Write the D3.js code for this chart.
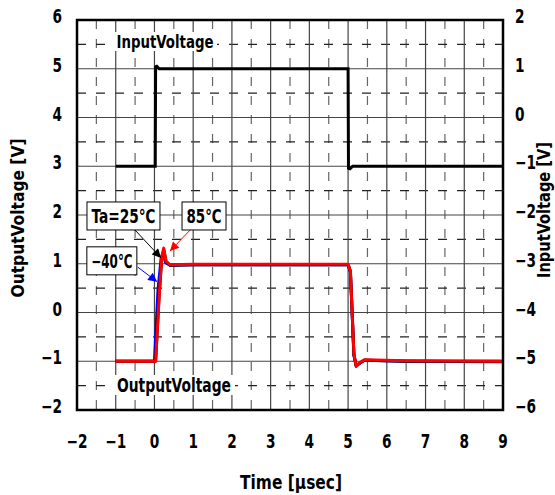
<!DOCTYPE html>
<html><head><meta charset="utf-8">
<script src="https://cdn.jsdelivr.net/npm/d3@7"></script>
<style>
body{margin:0;background:#fff;}
text{font-family:"Liberation Sans Narrow","DejaVu Sans Condensed","Noto Sans CJK JP",sans-serif;font-weight:bold;fill:#000;}
</style></head>
<body><svg id="c" width="555" height="495"></svg>
<script>
// ---- data ----
const xTicks = [-2,-1,0,1,2,3,4,5,6,7,8,9];
const yLeftTicks = [-2,-1,0,1,2,3,4,5,6];
const yRightTicks = [-6,-5,-4,-3,-2,-1,0,1,2];
// Input voltage (right axis, V)
const inputT = [-1, 0.02, 0.03, 0.06, 0.12, 5.0, 5.01, 5.05, 5.12, 9];
const inputV = [-1, -1, 1.04, 1.05, 1.0, 1.0, -1.04, -1.05, -1.0, -1.0];
// Output voltage (left axis, V)
const outT = [-1, 0.03, 0.12, 0.19, 0.24, 0.3, 0.4, 1.0, 5.0, 5.06, 5.15, 5.21, 5.3, 5.42, 6.5, 9];
const outV85 = [-1, -1, 0.3, 1.15, 1.32, 1.05, 0.98, 0.99, 0.99, 0.85, -0.85, -1.1, -1.03, -0.97, -0.99, -1.0];
const outV25 = [-1, -1, 0.35, 1.12, 1.28, 1.04, 0.97, 0.98, 0.98, 0.84, -0.86, -1.1, -1.04, -0.98, -1.0, -1.0];
const outVm40 = [-1, -1, 0.45, 1.1, 1.22, 1.02, 0.97, 0.98, 0.98, 0.83, -0.88, -1.09, -1.04, -0.98, -1.0, -1.01];
const outTm40 = [-1, 0.0, 0.09, 0.17, 0.22, 0.29, 0.4, 1.0, 5.0, 5.06, 5.15, 5.21, 5.3, 5.42, 6.5, 9];
// annotations (data coords on left axis)
const boxLabels = ["Ta=25℃", "85℃", "−40℃"];
const boxT = [-0.8, 1.28, -1.1];
const boxV = [1.98, 1.98, 1.06];
const boxW = [73, 44, 50];
const arrowColors = ["#000", "#f00", "#00f"];
const arrowFromT = [-0.5, 0.92, -0.43];
const arrowFromV = [1.69, 1.69, 0.93];
const arrowToT = [0.17, 0.4, 0.07];
const arrowToV = [1.12, 1.26, 0.63];

// ---- layout ----
const svg = d3.select("#c");
const L = 77, R = 503, T = 20, B = 410;
const x = d3.scaleLinear().domain([-2, 9]).range([L, R]);
const y = d3.scaleLinear().domain([-2, 6]).range([B, T]);
const yR = d3.scaleLinear().domain([-6, 2]).range([B, T]);

const g = svg.append("g");
// grid
const halfX = d3.range(-1.5, 9, 1);
const halfY = d3.range(-1.5, 6, 1);
g.selectAll(".vd").data(halfX).join("line")
  .attr("x1", d => x(d)).attr("x2", d => x(d)).attr("y1", T).attr("y2", B)
  .attr("stroke", "#666").attr("stroke-width", 1.2).attr("stroke-dasharray", "9,10");
g.selectAll(".hd").data(halfY).join("line")
  .attr("y1", d => y(d)).attr("y2", d => y(d)).attr("x1", L).attr("x2", R)
  .attr("stroke", "#222").attr("stroke-width", 1.2).attr("stroke-dasharray", "9,10");
g.selectAll(".vs").data(xTicks.slice(1, -1)).join("line")
  .attr("x1", d => x(d)).attr("x2", d => x(d)).attr("y1", T).attr("y2", B)
  .attr("stroke", "#444").attr("stroke-width", 1.2);
g.selectAll(".hs").data(yLeftTicks.slice(1, -1)).join("line")
  .attr("y1", d => y(d)).attr("y2", d => y(d)).attr("x1", L).attr("x2", R)
  .attr("stroke", "#444").attr("stroke-width", 1.2);

// labels with white backgrounds inside plot
function bgText(txt, cx, base, len, size) {
  return svg.append("text").attr("x", cx).attr("y", base).attr("text-anchor", "middle")
    .attr("font-size", size).attr("textLength", len).attr("lengthAdjust", "spacingAndGlyphs").text(txt);
}
svg.append("rect").attr("x", 113).attr("y", 32).attr("width", 104).attr("height", 19).attr("fill", "#fff");
bgText("InputVoltage", 165, 48, 97, 17);
svg.append("rect").attr("x", 113).attr("y", 375).attr("width", 122).attr("height", 20).attr("fill", "#fff");
bgText("OutputVoltage", 174, 392, 114, 19);

// traces
const line = d3.line().x(d => x(d[0])).y(d => d[1]);
const inPts = inputT.map((t, i) => [t, yR(inputV[i])]);
svg.append("path").attr("d", line(inPts)).attr("fill", "none").attr("stroke", "#000").attr("stroke-width", 3);
const series = [
  {t: outTm40, v: outVm40, c: "#00f"},
  {t: outT, v: outV25, c: "#000"},
  {t: outT, v: outV85, c: "#f00"}
];
series.forEach(s => {
  const pts = s.t.map((t, i) => [t, y(s.v[i])]);
  svg.append("path").attr("d", line(pts)).attr("fill", "none").attr("stroke", s.c)
    .attr("stroke-width", 3).attr("stroke-linejoin", "round");
});

// border
svg.append("rect").attr("x", L).attr("y", T).attr("width", R - L).attr("height", B - T)
  .attr("fill", "none").attr("stroke", "#000").attr("stroke-width", 2.5);

// arrows
const defs = svg.append("defs");
arrowColors.forEach((c, i) => {
  defs.append("marker").attr("id", "ah" + i).attr("viewBox", "0 0 10 10").attr("refX", 10).attr("refY", 5)
    .attr("markerWidth", 11).attr("markerHeight", 9).attr("markerUnits", "userSpaceOnUse").attr("orient", "auto")
    .append("path").attr("d", "M0,0L10,5L0,10Z").attr("fill", c);
  svg.append("line").attr("x1", x(arrowFromT[i])).attr("y1", y(arrowFromV[i]))
    .attr("x2", x(arrowToT[i])).attr("y2", y(arrowToV[i]))
    .attr("stroke", c).attr("stroke-width", 1).attr("marker-end", "url(#ah" + i + ")");
});
// boxes
boxLabels.forEach((lab, i) => {
  const cx = x(boxT[i]), cy = y(boxV[i]);
  svg.append("rect").attr("x", cx - boxW[i] / 2).attr("y", cy - 14).attr("width", boxW[i]).attr("height", 28)
    .attr("fill", "#fff").attr("stroke", "#000").attr("stroke-width", 1);
  svg.append("text").attr("x", cx).attr("y", cy + 7).attr("text-anchor", "middle").attr("font-size", 19)
    .attr("textLength", boxW[i] - 9).attr("lengthAdjust", "spacingAndGlyphs").text(lab);
});

// tick labels (narrow, tall glyphs)
const fmt = d => d < 0 ? "−" + Math.abs(d) : String(d);
svg.selectAll(".xl").data(xTicks).join("text")
  .attr("transform", d => `translate(${x(d)},448) scale(0.8,1)`)
  .attr("text-anchor", "middle").attr("font-size", 19).text(fmt);
svg.selectAll(".yl").data(yLeftTicks).join("text")
  .attr("transform", d => `translate(62,${y(d) + 3}) scale(0.8,1)`)
  .attr("text-anchor", "end").attr("font-size", 19).text(fmt);
svg.selectAll(".yr").data(yRightTicks).join("text")
  .attr("transform", d => `translate(515,${yR(d) + 3}) scale(0.8,1)`)
  .attr("text-anchor", "start").attr("font-size", 19).text(fmt);

// axis titles
svg.append("text").attr("transform", "translate(24,218) rotate(-90)").attr("text-anchor", "middle")
  .attr("font-size", 18).attr("textLength", 159).attr("lengthAdjust", "spacingAndGlyphs").text("OutputVoltage [V]");
svg.append("text").attr("transform", "translate(550,210) rotate(-90)").attr("text-anchor", "middle")
  .attr("font-size", 18).attr("textLength", 136).attr("lengthAdjust", "spacingAndGlyphs").text("InputVoltage [V]");
svg.append("text").attr("x", 291).attr("y", 489).attr("text-anchor", "middle")
  .attr("font-size", 19).attr("textLength", 102).attr("lengthAdjust", "spacingAndGlyphs").text("Time [μsec]");
</script></body></html>
